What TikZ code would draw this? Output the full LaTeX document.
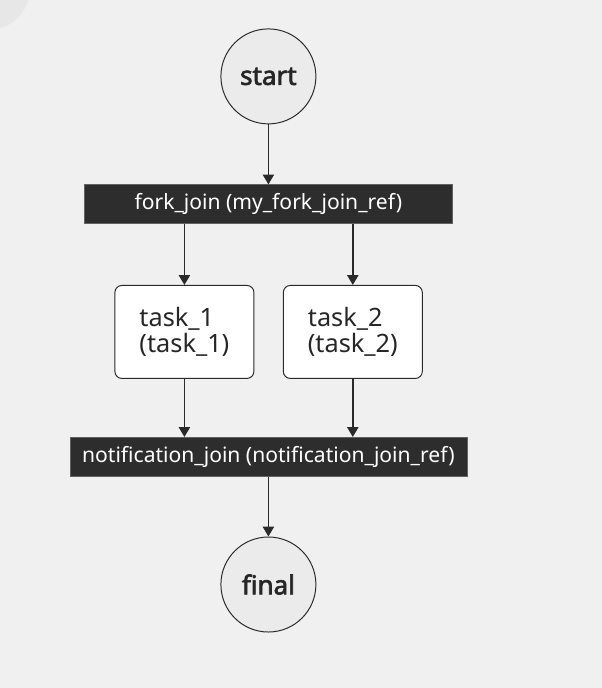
\documentclass[tikz,border=0pt]{standalone}
\usepackage{fontspec}
\setmainfont{Noto Sans}[BoldFont={Noto Sans}, BoldFeatures={FakeBold=2.5}]
\usepackage{tikz}
\usetikzlibrary{arrows.meta, positioning}
\definecolor{bgcolor}{HTML}{F0F0F0}
\definecolor{cornercolor}{HTML}{E7E7E7}
\definecolor{statecolor}{HTML}{EBEBEB}
\definecolor{linecolor}{HTML}{2A2A2A}
\definecolor{barcolor}{HTML}{2D2D2D}
\definecolor{textcolor}{HTML}{262626}

\begin{document}
\begin{tikzpicture}[
    >={Triangle[length=7pt, width=8pt]},
    state/.style={
        circle, draw=linecolor, line width=0.7pt,
        fill=statecolor, text=textcolor,
        minimum size=2.375cm, inner sep=0pt,
        font=\bfseries\fontsize{18.5}{20}\selectfont
    },
    bar/.style={
        draw=barcolor!75!white, fill=barcolor,
        minimum width=#1, minimum height=0.975cm,
        inner sep=0pt, text=white,
        font=\fontsize{15}{18}\selectfont
    },
    task/.style={
        draw=linecolor, line width=0.7pt, fill=white,
        rounded corners=5pt, text=textcolor,
        minimum width=3.475cm, minimum height=2.325cm,
        inner sep=0pt, align=left,
        font=\fontsize{18}{18}\selectfont
    },
    flow/.style={->, line width=1pt, draw=linecolor}
]

% =========================
% CANVAS
% =========================
\fill[bgcolor] (0,0) rectangle (15.05,-17.2);
\useasboundingbox (0,0) rectangle (15.05,-17.2);
\fill[cornercolor] (-0.3,0.3) circle (1.05cm);

% =========================
% TOP: START
% =========================
\node[state] (START) at (6.71,-1.91) {start};

% =========================
% FORK
% =========================
\node[bar=9.2cm, below=1.5cm of START] (FORK)
 {fork\_join (my\_fork\_join\_ref)};

\draw[flow] (START) -- (FORK);

% =========================
% TASKS (SIDE BY SIDE)
% =========================
\node[task, below=1.525cm of FORK, xshift=-2.1cm] (TASK1)
 {task\_1\\(task\_1)};

\node[task, below=1.525cm of FORK, xshift=2.11cm] (TASK2)
 {task\_2\\(task\_2)};

\draw[flow] (TASK1 |- FORK.south) -- (TASK1);
\draw[flow] (TASK2 |- FORK.south) -- (TASK2);

% =========================
% JOIN
% =========================
\node[bar=9.925cm, below=5.325cm of FORK] (JOIN)
 {notification\_join (notification\_join\_ref)};

\draw[flow] (TASK1) -- (TASK1 |- JOIN.north);
\draw[flow] (TASK2) -- (TASK2 |- JOIN.north);

% =========================
% FINAL
% =========================
\node[state, below=1.5cm of JOIN] (FINAL) {final};

\draw[flow] (JOIN) -- (FINAL);

\end{tikzpicture}
\end{document}
